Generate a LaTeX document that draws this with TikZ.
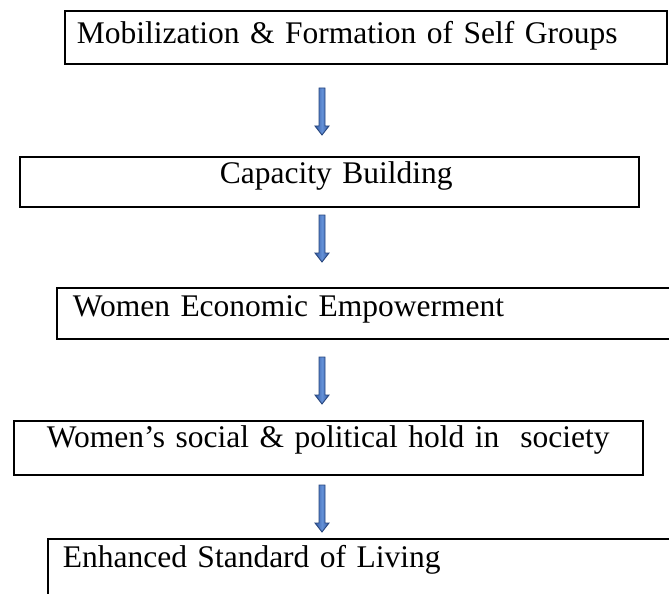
\documentclass[tikz,border=0pt]{standalone}
\usepackage{fontspec}
\setmainfont{Liberation Serif}
\usepackage{xcolor}
\usetikzlibrary{calc}
\definecolor{arredge}{RGB}{40,70,125}
\definecolor{arrmid}{RGB}{100,145,215}
\definecolor{arrside}{RGB}{50,90,165}

\begin{document}
\begin{tikzpicture}[
    x=1bp,y=-1bp,
    font=\fontsize{31.5bp}{36bp}\selectfont,
    box/.style={draw,line width=1.6bp,anchor=north west,inner ysep=0pt},
    cbox/.style={box,align=center,inner xsep=0pt},
    arr/.style={draw=arredge,line width=0.9bp,left color=arrside,right color=arrside,middle color=arrmid,
      to path={let \p1=(\tikztostart),\p2=(\tikztotarget) in
        (\x1-3bp,\y1) -- (\x1-3bp,\y2+9bp) -- (\x1-7bp,\y2+9bp) -- (\x2,\y2)
        -- (\x1+7bp,\y2+9bp) -- (\x1+3bp,\y2+9bp) -- (\x1+3bp,\y1) -- cycle}}
  ]
    \clip (0,0) rectangle (669,594);

    \node[box,align=left,inner xsep=12bp,text width=578bp,text height=33bp,text depth=20bp] (mob) at (64,10)
      {Mobilization \& Formation of Self Groups};
    \node[cbox,text width=619bp,text height=27bp,text depth=23bp] (cap) at (19,156)
      {\hspace*{14bp}Capacity Building};
    \node[box,align=left,inner xsep=16bp,text width=620bp,text height=29bp,text depth=22bp] (econ) at (56,287)
      {Women Economic Empowerment};
    \node[cbox,text width=629bp,text height=27bp,text depth=27bp] (soc) at (13,420)
      {Women’s social \& political hold in\ \ society};
    \node[box,align=left,inner xsep=15bp,text width=680bp,text height=29bp,text depth=100bp] (liv) at (47,538)
      {Enhanced Standard of Living};

    % arrow ends
    \coordinate (a1) at (322,88);  \coordinate (t1) at (322,135);
    \coordinate (a2) at (322,215); \coordinate (t2) at (322,262);
    \coordinate (a3) at (322,357); \coordinate (t3) at (322,404);
    \coordinate (a4) at (322,485); \coordinate (t4) at (322,532);

    \path[arr] (a1) to (t1);
    \path[arr] (a2) to (t2);
    \path[arr] (a3) to (t3);
    \path[arr] (a4) to (t4);
  \end{tikzpicture}
\end{document}
